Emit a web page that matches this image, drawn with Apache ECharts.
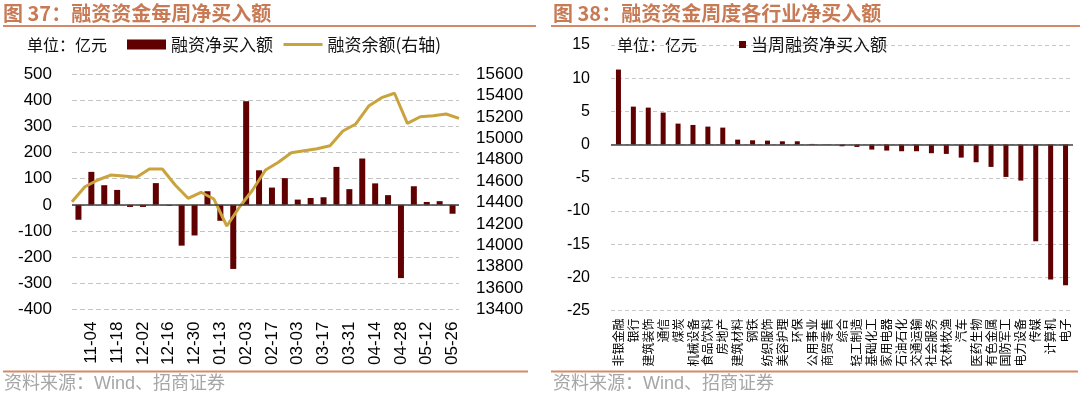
<!DOCTYPE html>
<html>
<head>
<meta charset="utf-8">
<script src="https://cdn.jsdelivr.net/npm/echarts@6/dist/echarts.min.js"></script>
<style>
  html, body { margin: 0; padding: 0; background: #fff; }
  #chart { width: 1080px; height: 399px; }
</style>
</head>
<body>
<div id="chart"></div>
<script>
  // 图37：每周融资净买入额（柱）与融资余额（线，右轴）
  var weeks = ['10-28', '11-04', '11-11', '11-18', '11-25', '12-02', '12-09', '12-16', '12-23', '12-30',
    '01-06', '01-13', '01-20', '02-03', '02-10', '02-17', '02-24', '03-03', '03-10', '03-17',
    '03-24', '03-31', '04-07', '04-14', '04-21', '04-28', '05-05', '05-12', '05-19', '05-26']
  var netBuy = [-57, 126, 75, 57, -8, -8, 83, -3, -156, -117, 52, -61, -245, 396, 132, 66, 102, 20, 26, 29,
    145, 60, 177, 82, 37, -280, 71, 11, 14, -34]
  // 余额比周数多一个点（期初 + 每周末）
  var balance = [14407, 14547, 14610, 14656, 14647, 14635, 14712, 14712, 14563, 14439, 14495, 14432, 14180,
    14360, 14516, 14703, 14775, 14865, 14884, 14902, 14930, 15068, 15133, 15301, 15379, 15420, 15139,
    15201, 15211, 15226, 15186]
  var leftTicks = [-400, -300, -200, -100, 0, 100, 200, 300, 400, 500]
  var rightTicks = [13400, 13600, 13800, 14000, 14200, 14400, 14600, 14800, 15000, 15200, 15400, 15600]

  // 图38：各行业当周融资净买入额
  var industries = ['非银金融', '银行', '建筑装饰', '通信', '煤炭', '机械设备', '食品饮料', '房地产', '建筑材料', '钢铁',
    '纺织服饰', '美容护理', '环保', '公用事业', '商贸零售', '综合', '轻工制造', '基础化工', '家用电器', '石油石化',
    '交通运输', '社会服务', '农林牧渔', '汽车', '医药生物', '有色金属', '国防军工', '电力设备', '传媒', '计算机', '电子']
  var industryNetBuy = [11.3, 5.72, 5.57, 4.82, 3.16, 2.96, 2.71, 2.56, 0.75, 0.65,
    0.6, 0.5, 0.5, 0.1, -0.05, -0.25, -0.35, -0.75, -0.9, -1.0,
    -1.0, -1.3, -1.4, -1.96, -2.66, -3.36, -4.87, -5.42, -14.56, -20.3, -21.2]
  var industryTicks = [-25, -20, -15, -10, -5, 0, 5, 10, 15]

  var titleColor = '#C87A55'
  var ruleColor = '#D48A68'
  var barColor = '#600000'
  var lineColor = '#C9A33B'
  var cjk = '"Noto Sans CJK SC"'
  var latinCjk = '"Liberation Sans", "Noto Sans CJK SC"'

  var plain = function (v) { return String(v) }

  var zeroLine = {
    silent: true,
    symbol: 'none',
    label: { show: false },
    lineStyle: { color: '#404040', width: 1.5, type: 'solid' },
    data: [{ yAxis: 0 }]
  }

  var myChart = echarts.init(document.getElementById('chart'))
  myChart.setOption({
    animation: false,
    textStyle: { fontFamily: 'Liberation Sans, Arial, sans-serif' },
    grid: [
      { left: 72, top: 74, width: 387, height: 235.5 },
      { left: 611, top: 45, width: 462, height: 265.6 }
    ],
    legend: [
      {
        data: [
          { name: '融资净买入额', icon: 'rect' },
          { name: '融资余额(右轴)', itemStyle: { opacity: 0 }, lineStyle: { width: 3, color: lineColor } }
        ],
        left: 127,
        top: 36,
        padding: 0,
        itemWidth: 39,
        itemHeight: 10,
        itemGap: 9,
        textStyle: { fontSize: 17, fontFamily: cjk, color: '#111' }
      },
      {
        data: [{ name: '当周融资净买入额', icon: 'rect' }],
        left: 739,
        top: 36,
        padding: 0,
        itemWidth: 7,
        itemHeight: 7,
        textStyle: { fontSize: 17, fontFamily: cjk, color: '#111' }
      }
    ],
    xAxis: [
      {
        gridIndex: 0,
        type: 'category',
        data: weeks,
        axisLine: { show: false, onZero: false },
        axisTick: { show: false },
        axisLabel: {
          rotate: 90,
          fontSize: 17,
          margin: 12,
          color: '#000',
          interval: function (i) { return i % 2 === 1 }
        }
      },
      {
        gridIndex: 0,
        type: 'category',
        show: false,
        boundaryGap: false,
        data: balance.map(function (v, i) { return i })
      },
      {
        gridIndex: 1,
        type: 'category',
        data: industries,
        axisLine: { show: false, onZero: false },
        axisTick: { show: false },
        axisLabel: {
          rotate: 90,
          interval: 0,
          fontSize: 12,
          margin: 8,
          color: '#000',
          fontFamily: cjk
        }
      }
    ],
    yAxis: [
      {
        gridIndex: 0,
        min: leftTicks[0],
        max: leftTicks[leftTicks.length - 1],
        interval: leftTicks[1] - leftTicks[0],
        axisLine: { show: false },
        axisTick: { show: false },
        axisLabel: { fontSize: 17, color: '#000', margin: 20, formatter: plain },
        splitLine: { lineStyle: { color: '#C4C4C4', type: [5, 3] } }
      },
      {
        gridIndex: 0,
        position: 'right',
        min: rightTicks[0],
        max: rightTicks[rightTicks.length - 1],
        interval: rightTicks[1] - rightTicks[0],
        axisLine: { show: false },
        axisTick: { show: false },
        axisLabel: { fontSize: 17, color: '#000', margin: 17, formatter: plain },
        splitLine: { show: false }
      },
      {
        gridIndex: 1,
        min: industryTicks[0],
        max: industryTicks[industryTicks.length - 1],
        interval: industryTicks[1] - industryTicks[0],
        axisLine: { show: false },
        axisTick: { show: false },
        axisLabel: { fontSize: 16, color: '#000', margin: 21, formatter: plain },
        splitLine: { lineStyle: { color: '#C8C8C8', type: [4, 3] } }
      }
    ],
    series: [
      {
        name: '融资净买入额',
        type: 'bar',
        xAxisIndex: 0,
        yAxisIndex: 0,
        data: netBuy,
        barWidth: 6,
        itemStyle: { color: barColor },
        markLine: zeroLine
      },
      {
        name: '融资余额(右轴)',
        type: 'line',
        xAxisIndex: 1,
        yAxisIndex: 1,
        data: balance,
        symbol: 'none',
        lineStyle: { color: lineColor, width: 3 },
        itemStyle: { color: lineColor }
      },
      {
        name: '当周融资净买入额',
        type: 'bar',
        xAxisIndex: 2,
        yAxisIndex: 2,
        data: industryNetBuy,
        barWidth: 5,
        itemStyle: { color: barColor },
        markLine: zeroLine
      }
    ],
    graphic: [
      { type: 'text', x: 3, y: 13, style: { text: '图 37：融资资金每周净买入额', font: 'bold 20px ' + cjk, fill: titleColor, verticalAlign: 'middle' } },
      { type: 'line', shape: { x1: 3, y1: 26, x2: 536, y2: 26 }, style: { stroke: ruleColor, lineWidth: 2 } },
      { type: 'text', x: 553, y: 13, style: { text: '图 38：融资资金周度各行业净买入额', font: 'bold 20px ' + cjk, fill: titleColor, verticalAlign: 'middle' } },
      { type: 'line', shape: { x1: 551, y1: 26, x2: 1080, y2: 26 }, style: { stroke: ruleColor, lineWidth: 2 } },
      { type: 'text', x: 27, y: 45, style: { text: '单位：亿元', font: '16px ' + cjk, fill: '#111', verticalAlign: 'middle' } },
      { type: 'text', x: 617, y: 45, style: { text: '单位：亿元', font: '16px ' + cjk, fill: '#111', verticalAlign: 'middle' } },
      { type: 'line', shape: { x1: 3, y1: 371.5, x2: 528, y2: 371.5 }, style: { stroke: ruleColor, lineWidth: 2 } },
      { type: 'line', shape: { x1: 551, y1: 371.5, x2: 1078, y2: 371.5 }, style: { stroke: ruleColor, lineWidth: 2 } },
      { type: 'text', x: 4, y: 384, style: { text: '资料来源：Wind、招商证券', font: '18px ' + latinCjk, fill: '#A6A6A6', verticalAlign: 'middle' } },
      { type: 'text', x: 553, y: 384, style: { text: '资料来源：Wind、招商证券', font: '18px ' + latinCjk, fill: '#A6A6A6', verticalAlign: 'middle' } }
    ]
  })
</script>
</body>
</html>
